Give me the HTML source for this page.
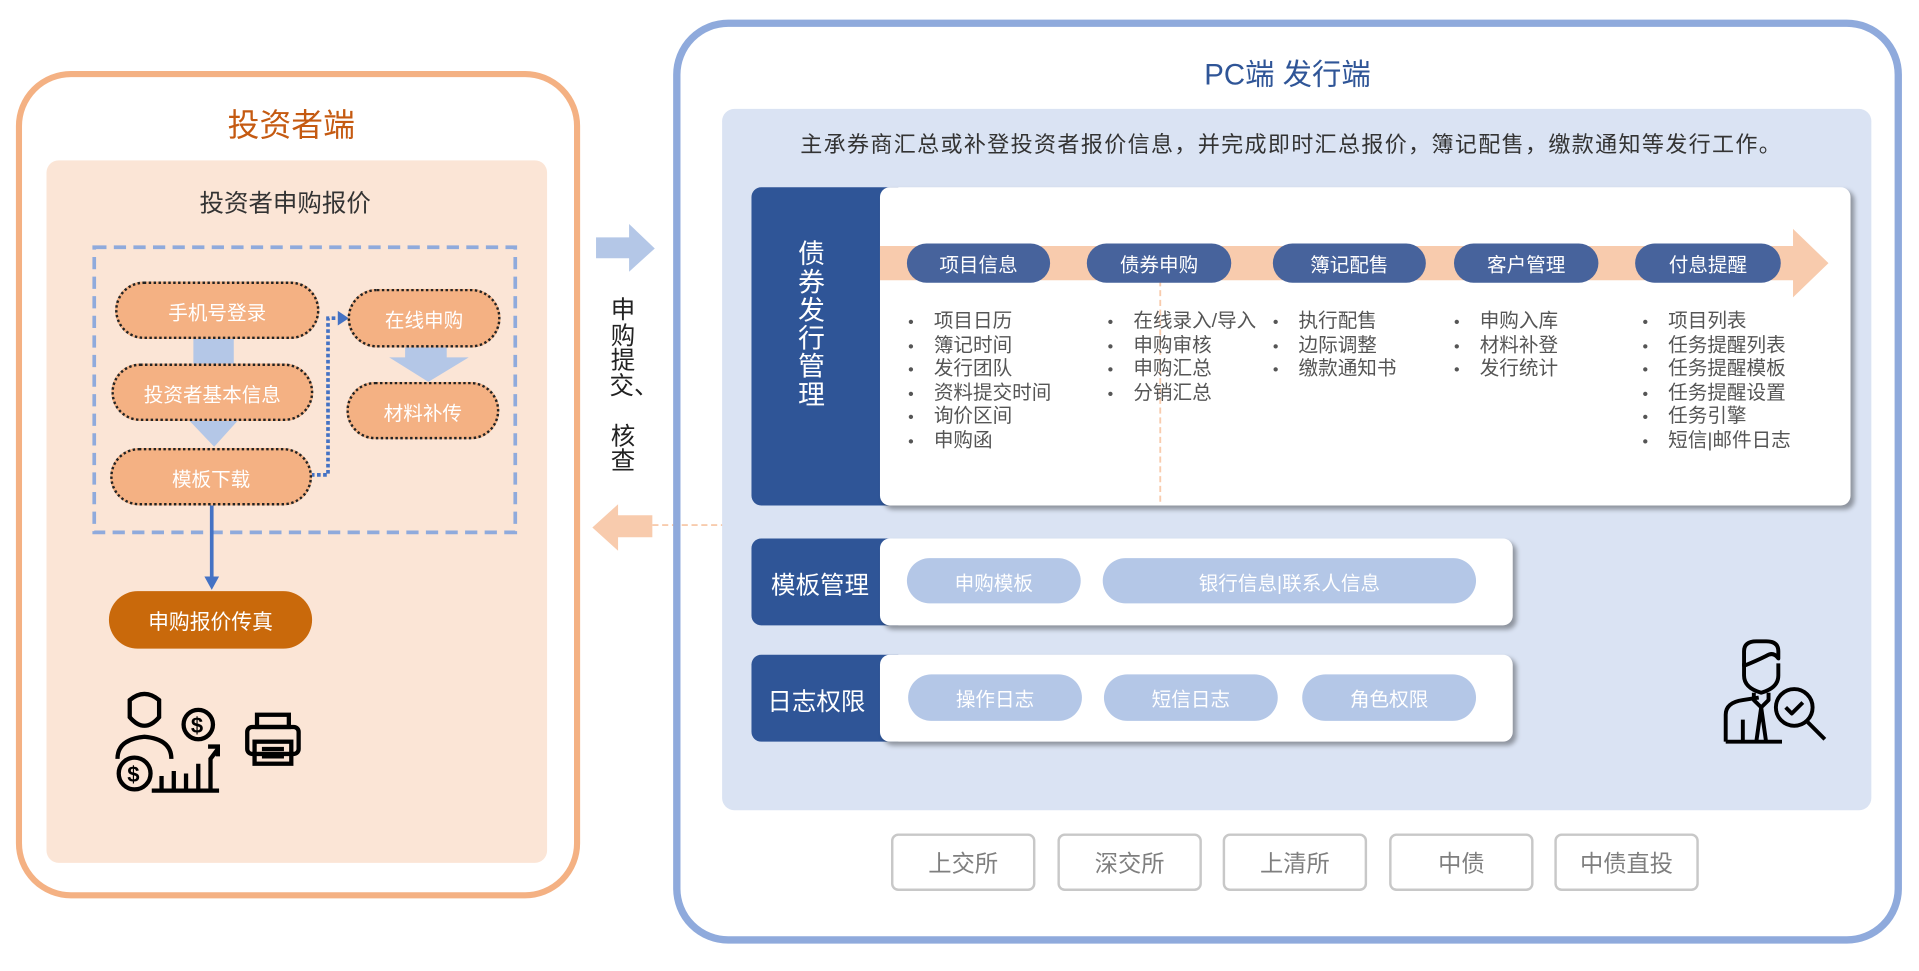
<!DOCTYPE html>
<html><head><meta charset="utf-8"><style>
html,body{margin:0;padding:0;background:#fff;overflow:hidden}
#root{position:relative;width:1568px;height:794px;transform:scale(1.2239);transform-origin:0 0;font-family:"Liberation Sans","Noto Sans CJK SC",sans-serif}
.a{position:absolute;box-sizing:border-box}
.pill{position:absolute;box-sizing:border-box;border-radius:30px;display:flex;align-items:center;justify-content:center;color:#fff;font-size:16px}
.op{background:#f4b183;border:2px dotted #222}
.dp{background:#47639c;font-size:16px}
.lp{background:#b4c7e7;font-size:16px}
.ul{position:absolute;margin:0;padding:0;list-style:none;font-size:16px;color:#555;line-height:19.6px}
.ul li:before{content:"•";position:absolute;margin-left:-21px;font-size:13px}
.bx{position:absolute;top:681px;height:47px;width:118px;border:2px solid #c8c8c8;border-radius:6px;display:flex;align-items:center;justify-content:center;color:#7f7f7f;font-size:19px;box-sizing:border-box;background:#fff}
.card{position:absolute;background:#fff;border-radius:8px;box-shadow:3px 3px 4px rgba(0,0,0,.35)}
.dark{position:absolute;background:#2f5597;border-radius:8px 0 0 8px;color:#fff}
</style></head><body><div id="root">
<!-- left -->
<div class="a" style="left:13px;top:58px;width:461px;height:676px;border:5px solid #f4b183;border-radius:45px"></div>
<div class="a" style="left:38px;top:131px;width:409px;height:574px;background:#fbe5d6;border-radius:10px"></div>
<div class="a" style="left:138px;top:82px;width:200px;text-align:center;font-size:26px;color:#c55a11">投资者端</div>
<div class="a" style="left:133px;top:150px;width:200px;text-align:center;font-size:20px;color:#333">投资者申购报价</div>
<svg class="a" style="left:0;top:0" width="1568" height="794">
<rect x="77" y="202" width="344" height="233" fill="none" stroke="#8faadc" stroke-width="3" stroke-dasharray="10,6"/>
<rect x="158" y="276" width="33" height="22" fill="#b4c7e7"/>
<polygon points="155,344 194,344 175,365" fill="#b4c7e7"/>
<rect x="331" y="283" width="34" height="10" fill="#b4c7e7"/>
<polygon points="318,292 383,292 350,312" fill="#b4c7e7"/>
<polyline points="254,388 268,388 268,260 276,260" fill="none" stroke="#4472c4" stroke-width="3" stroke-dasharray="3,2"/>
<polygon points="276,254 285,260 276,266" fill="#4472c4"/>
<line x1="173" y1="413" x2="173" y2="472" stroke="#4472c4" stroke-width="3"/>
<polygon points="167,471 179,471 173,482" fill="#4472c4"/>
<polygon points="487,194 514,194 514,183 535,203 514,222 514,211 487,211" fill="#b4c7e7"/>
<polygon points="533,421 505,421 505,412 484,431 505,450 505,439 533,439" fill="#f8cbad"/>
<polyline points="533,429 948,429 948,230" fill="none" stroke="#f8cbad" stroke-width="1.5" stroke-dasharray="5,3"/>
</svg>
<div class="pill op" style="left:94px;top:230px;width:167px;height:47px">手机号登录</div>
<div class="pill op" style="left:91px;top:297px;width:165px;height:47px">投资者基本信息</div>
<div class="pill op" style="left:90px;top:366px;width:165px;height:47px">模板下载</div>
<div class="pill op" style="left:284px;top:236px;width:125px;height:48px">在线申购</div>
<div class="pill op" style="left:283px;top:312px;width:125px;height:47px">材料补传</div>
<div class="pill" style="left:89px;top:483px;width:166px;height:47px;background:#c9690b;font-size:17px">申购报价传真</div>
<svg class="a" style="left:92px;top:562px" width="170" height="90" viewBox="0 0 170 90" fill="none" stroke="#000" stroke-width="3.5">
<path d="M14 10 q12-10 24 0 v14 q-12 14 -24 0z"/><path d="M4 58 q0-16 22-18 q22 2 22 18"/>
<circle cx="70" cy="30" r="12"/><text x="64" y="37" font-size="18" font-weight="bold" fill="#000" stroke="none">$</text>
<circle cx="18" cy="70" r="13"/><text x="12" y="77" font-size="18" font-weight="bold" fill="#000" stroke="none">$</text>
<path d="M32 84 h55 M40 84 v-12 M50 84 v-16 M60 84 v-14 M70 84 v-22 M80 84 v-26 L86 50 M78 48 h8 v8"/>
<rect x="110" y="32" width="42" height="22" rx="4"/><rect x="116" y="44" width="30" height="18"/><rect x="118" y="22" width="26" height="10"/>
<path d="M122 50 h18 M122 56 h18"/>
</svg>
<div class="a" style="left:498px;top:244px;width:22px;font-size:20px;line-height:20.5px;color:#222;text-align:center">申购提交、<br><br>核查</div>
<!-- right -->
<div class="a" style="left:550px;top:16px;width:1004px;height:755px;border:6px solid #8faadc;border-radius:45px"></div>
<div class="a" style="left:590px;top:89px;width:939px;height:573px;background:#dae3f3;border-radius:10px"></div>
<div class="a" style="left:900px;top:41px;width:304px;text-align:center;font-size:24px;color:#2f5597">PC端 发行端</div>
<div class="a" style="left:590px;top:104px;width:930px;text-align:center;font-size:18px;color:#333;letter-spacing:1.1px">主承券商汇总或补登投资者报价信息，并完成即时汇总报价，簿记配售，缴款通知等发行工作。</div>
<div class="dark" style="left:614px;top:153px;width:120px;height:260px"></div>
<div class="card" style="left:719px;top:153px;width:793px;height:260px"></div>
<div class="a" style="left:651px;top:196px;width:24px;font-size:22px;line-height:23px;color:#fff;text-align:center">债券发行管理</div>
<svg class="a" style="left:0;top:0" width="1568" height="794">
<polygon points="719,201 1465,201 1465,187 1494,215 1465,243 1465,229 719,229" fill="#f8cbad"/>
<line x1="948" y1="229" x2="948" y2="413" stroke="#f8cbad" stroke-width="1.5" stroke-dasharray="5,3"/>
</svg>
<div class="pill dp" style="left:741px;top:199px;width:117px;height:32px">项目信息</div>
<div class="pill dp" style="left:888px;top:199px;width:118px;height:32px">债券申购</div>
<div class="pill dp" style="left:1040px;top:199px;width:125px;height:32px">簿记配售</div>
<div class="pill dp" style="left:1188px;top:199px;width:118px;height:32px">客户管理</div>
<div class="pill dp" style="left:1336px;top:199px;width:119px;height:32px">付息提醒</div>
<ul class="ul" style="left:763px;top:253px"><li>项目日历</li><li>簿记时间</li><li>发行团队</li><li>资料提交时间</li><li>询价区间</li><li>申购函</li></ul>
<ul class="ul" style="left:926px;top:253px"><li>在线录入/导入</li><li>申购审核</li><li>申购汇总</li><li>分销汇总</li></ul>
<ul class="ul" style="left:1061px;top:253px"><li>执行配售</li><li>边际调整</li><li>缴款通知书</li></ul>
<ul class="ul" style="left:1209px;top:253px"><li>申购入库</li><li>材料补登</li><li>发行统计</li></ul>
<ul class="ul" style="left:1363px;top:253px"><li>项目列表</li><li>任务提醒列表</li><li>任务提醒模板</li><li>任务提醒设置</li><li>任务引擎</li><li>短信|邮件日志</li></ul>
<div class="dark" style="left:614px;top:440px;width:120px;height:71px"></div>
<div class="card" style="left:719px;top:440px;width:517px;height:71px"></div>
<div class="a" style="left:614px;top:462px;width:112px;text-align:center;font-size:20px;color:#fff">模板管理</div>
<div class="pill lp" style="left:741px;top:456px;width:142px;height:37px">申购模板</div>
<div class="pill lp" style="left:901px;top:456px;width:305px;height:37px">银行信息|联系人信息</div>
<div class="dark" style="left:614px;top:535px;width:120px;height:71px"></div>
<div class="card" style="left:719px;top:535px;width:517px;height:71px"></div>
<div class="a" style="left:614px;top:557px;width:106px;text-align:center;font-size:20px;color:#fff">日志权限</div>
<div class="pill lp" style="left:742px;top:551px;width:142px;height:38px">操作日志</div>
<div class="pill lp" style="left:902px;top:551px;width:142px;height:38px">短信日志</div>
<div class="pill lp" style="left:1064px;top:551px;width:142px;height:38px">角色权限</div>
<svg class="a" style="left:1405px;top:518px" width="95" height="92" viewBox="0 0 95 92" fill="none" stroke="#000" stroke-width="3.2" stroke-linejoin="round">
<path d="M20 26 v-12 q0-8 10-8 h8 q10 0 10 8 v6 q-4-6 -10-2 q-8 4 -18 8z"/>
<path d="M20 24 v10 q0 10 14 14 q14-4 14-14 v-10"/>
<path d="M28 48 v6 l6 6 l6-6 v-6"/>
<path d="M5 88 v-22 q0-10 14-12 l13 -2 M34 60 l-4 28 M34 60 l4 28 M19 70 v18 M5 88 h46"/>
<circle cx="61" cy="60" r="15"/><path d="M54 60 l5 5 l9-9"/><path d="M72 72 l14 14"/>
</svg>
<div class="bx" style="left:728px">上交所</div>
<div class="bx" style="left:864px">深交所</div>
<div class="bx" style="left:999px">上清所</div>
<div class="bx" style="left:1135px">中债</div>
<div class="bx" style="left:1270px">中债直投</div>
</div></body></html>
